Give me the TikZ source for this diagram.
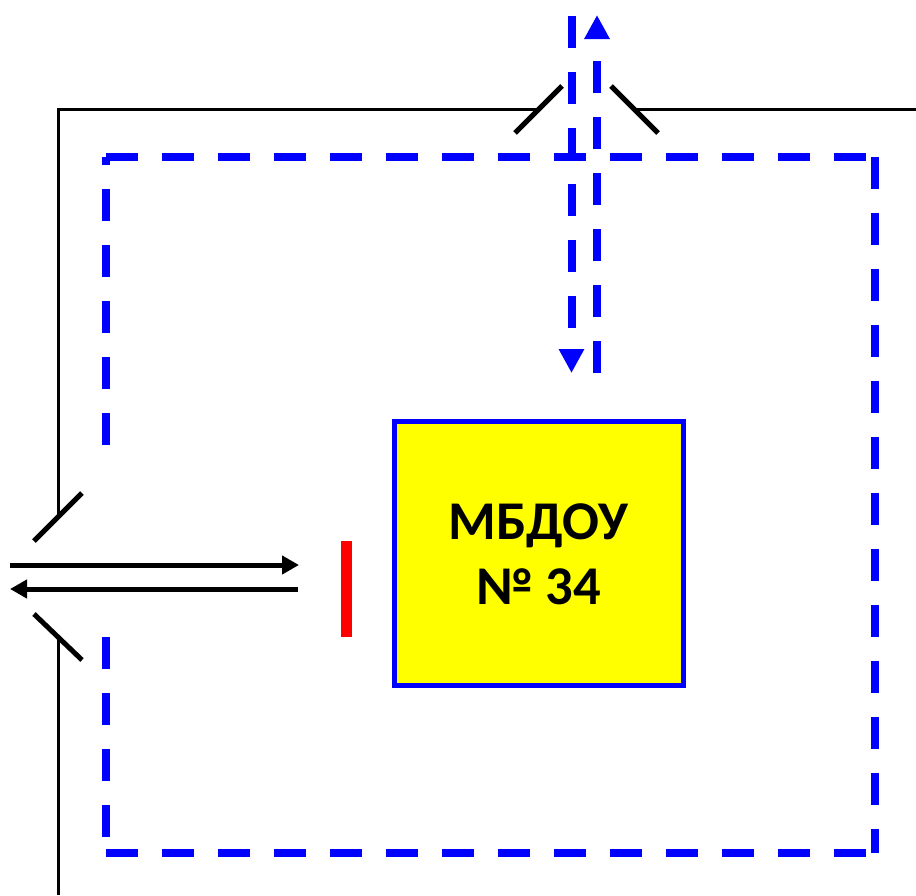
\documentclass[tikz,border=0pt]{standalone}
\usepackage{fontspec}
\setmainfont{Carlito}
\usetikzlibrary{arrows.meta}
\definecolor{pblue}{RGB}{0,0,255}
\definecolor{pyellow}{RGB}{255,255,0}
\definecolor{pred}{RGB}{255,0,0}
\tikzset{
 fence/.style={draw=black,line width=3pt},
 leaf/.style={draw=black,line width=5pt},
 route/.style={draw=pblue,line width=8pt,dash pattern=on 32pt off 24pt},
 routearrow/.style={route,-{Triangle[length=24pt,width=24pt,fill=pblue]}},
 blackarrow/.style={draw=black,line width=5pt,-{Triangle[length=17pt,width=18pt]}},
 building/.style={draw=pblue,line width=5pt,fill=pyellow,minimum width=289pt,minimum height=263.5pt,inner sep=0pt,text depth=-3pt,align=center,font=\fontsize{54.6pt}{65pt}\selectfont\bfseries},
 bar/.style={fill=pred,draw=none,minimum width=11pt,minimum height=96pt,inner sep=0pt}
}
\begin{document}
\begin{tikzpicture}[x=1pt,y=-1pt]
\useasboundingbox (0,0) rectangle (916,895);
\coordinate (fa) at (916,109); \coordinate (fb) at (637,109);
\coordinate (fc) at (537,109); \coordinate (fd) at (58,109);
\coordinate (fe) at (58,517); \coordinate (ff) at (58,637); \coordinate (fg) at (58,895);
\draw[fence] (fa) -- (fb);
\draw[fence] (fc) -- (fd) -- (fe);
\draw[fence] (ff) -- (fg);
\coordinate (l1a) at (515,133); \coordinate (l1b) at (562,86);
\coordinate (l2a) at (611,86); \coordinate (l2b) at (658,133);
\coordinate (l3a) at (34,541); \coordinate (l3b) at (82,493);
\coordinate (l4a) at (34,614); \coordinate (l4b) at (82,660);
\draw[leaf] (l1a) -- (l1b);
\draw[leaf] (l2a) -- (l2b);
\draw[leaf] (l3a) -- (l3b);
\draw[leaf] (l4a) -- (l4b);
\coordinate (r1) at (106,445); \coordinate (r2) at (106,157); \coordinate (r3) at (875,157);
\coordinate (r4) at (875,853); \coordinate (r5) at (106,853); \coordinate (r6) at (106,637);
\draw[route] (r1) -- (r2);
\draw[route] (r2) -- (r3);
\draw[route] (r3) -- (r4);
\draw[route] (r6) -- (r5);
\draw[route] (r5) -- (r4);
\coordinate (d1) at (571.5,16); \coordinate (d2) at (571.5,373);
\coordinate (u1) at (597,373); \coordinate (u2) at (597,15);
\draw[routearrow] (d1) -- (d2);
\draw[routearrow] (u1) -- (u2);
\node[building] (school) at (538.5,553.7) {МБДОУ\\№ 34};
\node[bar] (door) at (346.5,589) {};
\coordinate (a1) at (10,565); \coordinate (a2) at (299,565);
\coordinate (a3) at (298,589); \coordinate (a4) at (10,589);
\draw[blackarrow] (a1) -- (a2);
\draw[blackarrow] (a3) -- (a4);
\end{tikzpicture}
\end{document}
